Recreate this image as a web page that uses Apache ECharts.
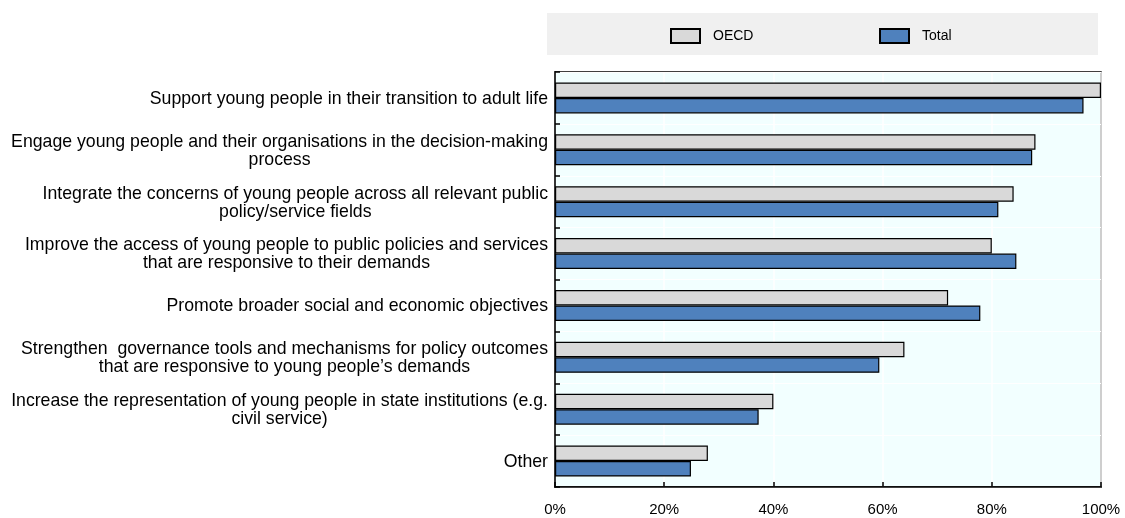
<!DOCTYPE html>
<html>
<head>
<meta charset="utf-8">
<script src="https://cdn.jsdelivr.net/npm/echarts@6/dist/echarts.min.js"></script>
<style>
html,body{margin:0;padding:0;background:#fff;}
#chart{width:1125px;height:518px;}
</style>
</head>
<body>
<div id="chart"></div>
<script>
var categories = [
  "Support young people in their transition to adult life",
  "Engage young people and their organisations in the decision-making\nprocess",
  "Integrate the concerns of young people across all relevant public\npolicy/service fields",
  "Improve the access of young people to public policies and services\nthat are responsive to their demands",
  "Promote broader social and economic objectives",
  "Strengthen  governance tools and mechanisms for policy outcomes\nthat are responsive to young people\u2019s demands",
  "Increase the representation of young people in state institutions (e.g.\ncivil service)",
  "Other"
];
var oecdValues  = [100, 88, 84, 80, 72, 64, 40, 28];
var totalValues = [96.8, 87.4, 81.2, 84.5, 77.9, 59.4, 37.3, 24.9];
var xTicks = [0, 20, 40, 60, 80, 100];

var FONT = "'Liberation Sans', Arial, sans-serif";
var chart = echarts.init(document.getElementById('chart'), null, {renderer: 'canvas'});
chart.setOption({
  animation: false,
  backgroundColor: '#ffffff',
  graphic: [{
    type: 'rect', z: -1, silent: true,
    shape: {x: 547, y: 13, width: 551, height: 42},
    style: {fill: '#F0F0F0'}
  }],
  legend: [{
    data: ['OECD'], left: 670, top: 28, padding: 0,
    itemWidth: 29, itemHeight: 14, icon: 'rect',
    textStyle: {fontFamily: FONT, fontSize: 14, color: '#000', padding: [0, 0, 0, 8]}
  }, {
    data: ['Total'], left: 879, top: 28, padding: 0,
    itemWidth: 29, itemHeight: 14, icon: 'rect',
    textStyle: {fontFamily: FONT, fontSize: 14, color: '#000', padding: [0, 0, 0, 8]}
  }],
  grid: {
    left: 555, right: 24, top: 72, bottom: 31,
    show: true, backgroundColor: '#F2FFFF', borderColor: '#000', borderWidth: 1.5
  },
  xAxis: {
    type: 'value', min: 0, max: 100, interval: 20,
    axisLine: {show: true, lineStyle: {color: '#000', width: 1.5}},
    axisTick: {show: true, inside: true, length: 5, lineStyle: {color: '#000', width: 1.5}},
    splitLine: {show: true, lineStyle: {color: '#ffffff', width: 1.5}},
    axisLabel: {
      fontFamily: FONT, fontSize: 15, color: '#000', margin: 15,
      formatter: function (v) { return v + '%'; }
    }
  },
  yAxis: {
    type: 'category', inverse: true, data: categories,
    axisLine: {show: true, lineStyle: {color: '#000', width: 1.5}},
    axisTick: {show: true, inside: true, length: 5, lineStyle: {color: '#000', width: 1.5}},
    splitLine: {show: true, lineStyle: {color: '#ffffff', width: 1}},
    axisLabel: {
      margin: 7, color: '#000', fontFamily: FONT, fontSize: 17.7, lineHeight: 18,
      formatter: function (v) {
        return v.split('\n').map(function (l) { return '{c|' + l + '}'; }).join('\n');
      },
      rich: {c: {align: 'center', fontFamily: FONT, fontSize: 17.7, lineHeight: 18, color: '#000', padding: [2, 0, 0, 0]}}
    }
  },
  series: [{
    name: 'OECD', type: 'bar', data: oecdValues, barWidth: 15.5, barGap: '0%',
    itemStyle: {color: '#D9D9D9', borderColor: '#000', borderWidth: 1.2}
  }, {
    name: 'Total', type: 'bar', data: totalValues, barWidth: 15.5, barGap: '0%',
    itemStyle: {color: '#4F81BD', borderColor: '#000', borderWidth: 1.2}
  }]
});
</script>
</body>
</html>
